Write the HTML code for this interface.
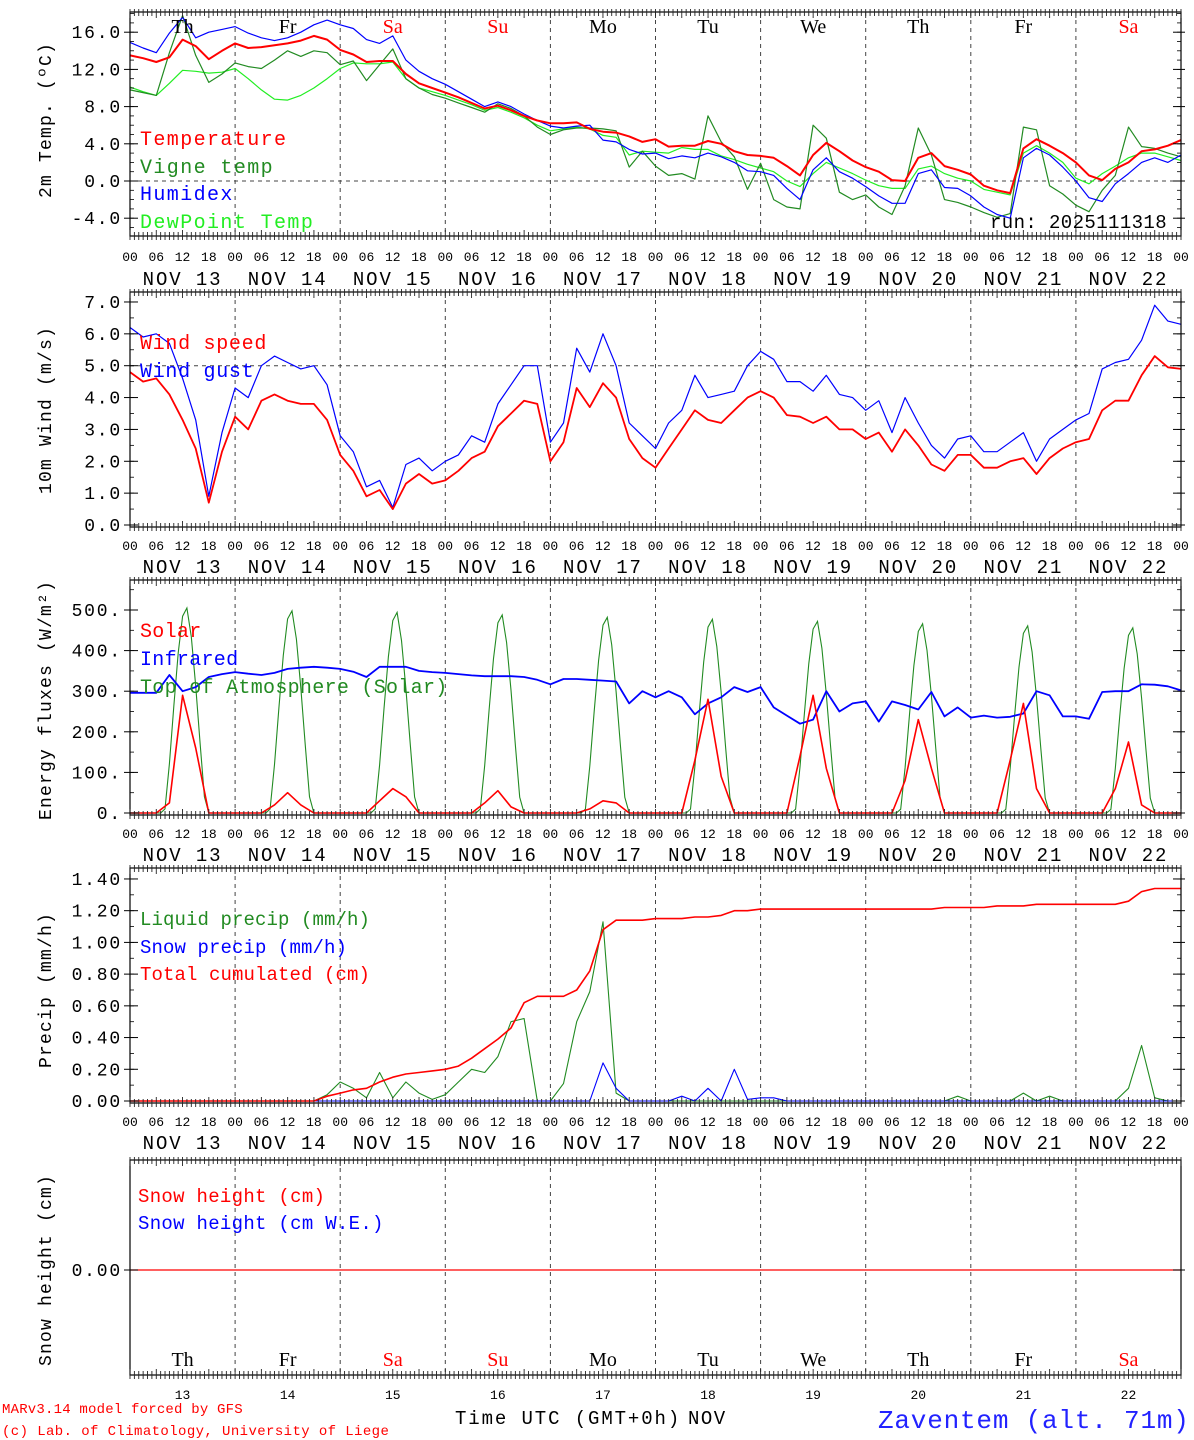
<!DOCTYPE html>
<html><head><meta charset="utf-8"><style>
html,body{margin:0;padding:0;background:#fff;}
svg{display:block;font-family:"Liberation Mono",monospace;}
.s{font-family:"Liberation Serif",serif;}
</style></head><body>
<svg id="chart" width="1194" height="1440" viewBox="0 0 1194 1440" xmlns="http://www.w3.org/2000/svg">
<g id="grid"></g>
<g id="series"></g>
<g id="axes"></g>
<g font-size="20" letter-spacing="1.4">
<text x="140" y="145" fill="#ff0000">Temperature</text>
<text x="140" y="173" fill="#228b22">Vigne temp</text>
<text x="140" y="200" fill="#0000ff">Humidex</text>
<text x="140" y="228" fill="#22ee22">DewPoint Temp</text>
</g>
<text x="990" y="228" fill="#000" font-size="19" letter-spacing="0.4">run: 2025111318</text>
<g font-size="20" letter-spacing="0.7">
<text x="140" y="349" fill="#ff0000">Wind speed</text>
<text x="140" y="377" fill="#0000ff">Wind gust</text>
</g>
<g font-size="20" letter-spacing="0.3">
<text x="140" y="637" fill="#ff0000">Solar</text>
<text x="140" y="665" fill="#0000ff">Infrared</text>
<text x="140" y="693" fill="#228b22">Top of Atmosphere (Solar)</text>
</g>
<g font-size="19" letter-spacing="0.1">
<text x="140" y="925" fill="#228b22">Liquid precip (mm/h)</text>
<text x="140" y="953" fill="#0000ff">Snow precip (mm/h)</text>
<text x="140" y="980" fill="#ff0000">Total cumulated (cm)</text>
</g>
<g font-size="19" letter-spacing="0.3">
<text x="138" y="1202" fill="#ff0000">Snow height (cm)</text>
<text x="138" y="1229" fill="#0000ff">Snow height (cm W.E.)</text>
</g>
<g font-size="18" letter-spacing="1.2" text-anchor="middle">
<text transform="translate(51,120) rotate(-90)">2m Temp. (ºC)</text>
<text transform="translate(51,410) rotate(-90)">10m Wind (m/s)</text>
<text transform="translate(51,700) rotate(-90)">Energy fluxes (W/m²)</text>
<text transform="translate(51,990) rotate(-90)">Precip (mm/h)</text>
<text transform="translate(51,1270) rotate(-90)">Snow height (cm)</text>
</g>
<text x="2" y="1413" font-size="14" fill="#ff0000" letter-spacing="0.2">MARv3.14 model forced by GFS</text>
<text x="2" y="1435" font-size="14" fill="#ff0000" letter-spacing="0.4">(c) Lab. of Climatology, University of Liege</text>
<text x="455" y="1424" font-size="19" letter-spacing="1.9">Time UTC (GMT+0h)</text>
<text x="688" y="1424" font-size="19" letter-spacing="1.5">NOV</text>
<text x="878" y="1428" font-size="26" fill="#2222ff" letter-spacing="0.8">Zaventem (alt. 71m)</text>
</svg>
<script>
const dayNames=["Th","Fr","Sa","Su","Mo","Tu","We","Th","Fr","Sa"];
const dayNums=["13","14","15","16","17","18","19","20","21","22"];
const temperature=[13.5,13.2,12.8,13.3,15.2,14.5,13.1,14.0,14.8,14.3,14.4,14.6,14.8,15.1,15.6,15.2,14.1,13.6,12.8,12.9,12.9,11.5,10.5,10.0,9.5,9.0,8.4,7.8,8.1,7.6,7.0,6.5,6.2,6.2,6.3,5.6,5.3,5.2,4.8,4.2,4.5,3.7,3.8,3.8,4.3,4.0,3.2,2.8,2.7,2.5,1.6,0.6,2.8,4.1,3.2,2.2,1.5,1.0,0.1,0.0,2.5,3.0,1.6,1.2,0.7,-0.5,-1.0,-1.3,3.5,4.5,3.8,3.0,2.0,0.6,0.1,1.3,2.0,3.2,3.4,3.8,4.4];
const vigneTemp=[9.8,9.5,9.2,13.8,17.8,13.5,10.6,11.5,12.7,12.3,12.1,13.0,14.0,13.4,14.0,13.8,12.5,12.9,10.8,12.5,14.2,11.0,10.0,9.3,8.9,8.4,7.9,7.4,8.3,7.8,7.0,5.8,5.0,5.5,5.7,5.7,5.6,5.4,1.5,3.2,1.6,0.6,0.8,0.2,7.0,4.2,2.6,-0.9,1.9,-2.0,-2.8,-3.0,6.0,4.6,-1.2,-2.0,-1.5,-2.8,-3.6,-0.5,5.7,2.8,-2.0,-2.3,-2.8,-3.4,-3.9,-3.5,5.8,5.5,-0.5,-1.4,-2.6,-3.3,-1.0,0.6,5.8,3.7,3.5,3.0,2.6];
const humidex=[14.9,14.3,13.8,15.9,17.6,15.4,16.0,16.3,16.6,15.9,15.4,15.1,15.4,16.0,16.8,17.3,16.8,16.4,15.2,14.8,15.6,13.0,11.8,11.0,10.4,9.6,8.8,8.0,8.5,8.0,7.2,6.5,5.9,5.7,5.9,6.0,4.4,4.2,3.4,2.9,3.0,2.4,2.7,2.5,3.0,2.6,2.0,1.1,1.0,0.6,-0.8,-2.0,1.2,2.5,1.0,0.3,-0.6,-1.6,-2.4,-2.4,0.8,1.2,-0.7,-0.8,-1.6,-2.8,-3.6,-4.0,2.5,3.5,2.8,1.5,0.0,-1.8,-2.2,-0.3,0.8,2.0,2.5,2.0,2.8];
const dewPoint=[10.1,9.6,9.2,10.5,11.9,11.8,11.6,11.7,12.1,11.0,9.8,8.8,8.7,9.2,10.0,11.0,12.1,12.7,12.6,12.6,12.8,11.0,10.0,9.6,9.2,8.7,8.2,7.6,7.9,7.4,6.8,6.0,5.4,5.6,5.8,5.6,4.9,4.7,2.8,3.2,3.1,3.0,3.6,3.4,3.4,2.7,2.3,1.8,1.4,1.0,0.0,-0.6,0.8,2.0,1.4,0.8,0.1,-0.5,-0.8,-0.8,1.3,1.6,0.8,0.3,0.0,-0.9,-1.2,-1.5,3.0,3.8,3.0,2.0,0.3,-0.3,0.8,1.6,2.5,3.0,3.0,2.6,2.2];
const windSpeed=[4.8,4.5,4.6,4.1,3.3,2.4,0.7,2.3,3.4,3.0,3.9,4.1,3.9,3.8,3.8,3.3,2.2,1.7,0.9,1.1,0.5,1.3,1.6,1.3,1.4,1.7,2.1,2.3,3.1,3.5,3.9,3.8,2.0,2.6,4.3,3.7,4.45,4.0,2.7,2.1,1.8,2.4,3.0,3.6,3.3,3.2,3.6,4.0,4.2,4.0,3.45,3.4,3.2,3.4,3.0,3.0,2.7,2.9,2.3,3.0,2.5,1.9,1.7,2.2,2.2,1.8,1.8,2.0,2.1,1.6,2.1,2.4,2.6,2.7,3.6,3.9,3.9,4.7,5.3,4.95,4.9];
const windGust=[6.2,5.9,6.0,5.7,4.6,3.3,0.9,2.9,4.3,4.0,5.0,5.3,5.1,4.9,5.0,4.4,2.8,2.3,1.2,1.4,0.55,1.9,2.1,1.7,2.0,2.2,2.8,2.6,3.8,4.4,5.0,5.0,2.6,3.2,5.55,4.8,6.0,5.0,3.2,2.8,2.4,3.2,3.6,4.7,4.0,4.1,4.2,5.0,5.45,5.2,4.5,4.5,4.2,4.7,4.1,4.0,3.6,3.9,2.9,4.0,3.2,2.5,2.1,2.7,2.8,2.3,2.3,2.6,2.9,2.0,2.7,3.0,3.3,3.5,4.9,5.1,5.2,5.8,6.9,6.4,6.3];
const solar=[0,0,0,25,290,160,0,0, 0,0,0,20,50,20,0,0, 0,0,0,30,60,40,0,0, 0,0,0,25,55,15,0,0, 0,0,0,10,30,25,0,0, 0,0,0,130,280,90,0,0, 0,0,0,140,290,110,0,0, 0,0,0,80,230,110,0,0, 0,0,0,130,270,60,0,0, 0,0,0,60,175,20,0,0, 0];
const infrared=[296,296,296,340,300,310,335,342,347,343,340,345,355,358,360,358,355,348,335,360,360,360,350,347,345,342,339,337,337,337,335,328,317,330,330,328,326,324,270,300,285,300,285,243,270,285,310,298,310,260,240,220,230,300,250,270,275,225,275,266,255,298,238,260,235,240,235,237,245,300,290,238,238,232,298,300,300,317,316,312,302];
const toaProfile=[0,0,0,0,0,0,0,0,10,120,260,390,480,500,430,310,170,40,0,0,0,0,0,0];
const toaPeak=[505,498,494,488,482,477,472,466,461,456];
const liquidPrecip=[0,0,0,0,0,0,0,0,0,0,0,0,0,0,0,0.04,0.12,0.08,0.02,0.18,0.02,0.12,0.05,0.01,0.04,0.12,0.20,0.18,0.28,0.50,0.52,0,0,0.11,0.50,0.69,1.13,0.05,0,0,0,0,0,0,0,0,0,0,0,0,0,0,0,0,0,0,0,0,0,0,0,0,0,0.03,0,0,0,0,0.05,0,0.03,0,0,0,0,0,0.08,0.35,0.02,0,0];
const snowPrecip=[0,0,0,0,0,0,0,0,0,0,0,0,0,0,0,0,0,0,0,0,0,0,0,0,0,0,0,0,0,0,0,0,0,0,0,0,0.24,0.08,0,0,0,0,0.03,0,0.08,0,0.20,0.01,0.02,0.02,0,0,0,0,0,0,0,0,0,0,0,0,0,0,0,0,0,0,0,0,0,0,0,0,0,0,0,0,0,0,0];
const cumulated=[0,0,0,0,0,0,0,0,0,0,0,0,0,0,0,0.03,0.05,0.07,0.08,0.12,0.15,0.17,0.18,0.19,0.20,0.22,0.27,0.33,0.39,0.46,0.62,0.66,0.66,0.66,0.70,0.82,1.08,1.14,1.14,1.14,1.15,1.15,1.15,1.16,1.16,1.17,1.20,1.20,1.21,1.21,1.21,1.21,1.21,1.21,1.21,1.21,1.21,1.21,1.21,1.21,1.21,1.21,1.22,1.22,1.22,1.22,1.23,1.23,1.23,1.24,1.24,1.24,1.24,1.24,1.24,1.24,1.26,1.32,1.34,1.34,1.34];
const snowHeight=[0,0,0,0,0,0,0,0,0,0,0,0,0,0,0,0,0,0,0,0,0,0,0,0,0,0,0,0,0,0,0,0,0,0,0,0,0,0,0,0,0,0,0,0,0,0,0,0,0,0,0,0,0,0,0,0,0,0,0,0,0,0,0,0,0,0,0,0,0,0,0,0,0,0,0,0,0,0,0,0,0];
const tempTicks=["-4.0","0.0","4.0","8.0","12.0","16.0"];
const windTicks=["0.0","1.0","2.0","3.0","4.0","5.0","6.0","7.0"];
const energyTicks=["0.","100.","200.","300.","400.","500."];
const precipTicks=["0.00","0.20","0.40","0.60","0.80","1.00","1.20","1.40"];
const hourTicks=["00","06","12","18"];

const NS="http://www.w3.org/2000/svg";
const G=document.getElementById('grid'),S=document.getElementById('series'),A=document.getElementById('axes');
function mk(tag,attrs,parent){const e=document.createElementNS(NS,tag);for(const k in attrs)e.setAttribute(k,attrs[k]);parent.appendChild(e);return e;}
const X0=130,X1=1181;
function X(h){return X0+h*(X1-X0)/240;}
const panels=[
 {top:12,bot:236,labY:261,dateY:285,Y:v=>181-v*9.3,ticks:tempTicks,minor:[-5,18,1]},
 {top:292,bot:527,labY:550,dateY:573,Y:v=>525-v*31.86,ticks:windTicks,minor:[0,7.5,0.5]},
 {top:580,bot:815,labY:838,dateY:861,Y:v=>813-v*0.406,ticks:energyTicks,minor:[0,550,50]},
 {top:868,bot:1103,labY:1126,dateY:1149,Y:v=>1101-v*158.6,ticks:precipTicks,minor:[0,1.45,0.1]},
 {top:1160,bot:1375,Y:v=>1270-v*100,ticks:["0.00"],minor:null}
];
panels.forEach((p,pi)=>{
  const fr=mk('rect',{x:X0,y:p.top,width:X1-X0,height:p.bot-p.top,fill:'none',stroke:'#000','stroke-width':1.2},A);
  
  
  for(let d=1;d<10;d++){
    const l=mk('line',{x1:X(d*24),x2:X(d*24),y1:p.top,y2:p.bot,stroke:'#444','stroke-dasharray':'4,4','stroke-width':1},G);
    
    
  }
  for(let h=0;h<=240;h++){
    const len=(h%6===0)?6:4;
    const t1=mk('line',{x1:X(h),x2:X(h),y1:p.top-3,y2:p.top+len,stroke:'#222','stroke-width':0.9},A);
    
    
    const t2=mk('line',{x1:X(h),x2:X(h),y1:p.bot-len,y2:p.bot+4,stroke:'#222','stroke-width':0.9},A);
    
    
  }
  p.ticks.forEach(lbl=>{
    const v=parseFloat(lbl);
    const y=p.Y(v);
    const t=mk('text',{x:122,y:y+6,'text-anchor':'end','font-size':18,'letter-spacing':1.8},A);
    t.textContent=lbl;
    
    
    [[X0-6,X0+8],[X1-8,X1+4]].forEach(([a,b])=>{
      const tk=mk('line',{x1:a,x2:b,y1:y,y2:y,stroke:'#000','stroke-width':1},A);
      
      
    });
  });
  if(p.minor){
    for(let v=p.minor[0];v<=p.minor[1]+1e-9;v+=p.minor[2]){
      const y=p.Y(v); if(y<p.top||y>p.bot)continue;
      [[X0,X0+4],[X1-4,X1]].forEach(([a,b])=>{
        const tk=mk('line',{x1:a,x2:b,y1:y,y2:y,stroke:'#000','stroke-width':0.8},A);
        
        
      });
    }
  }
  if(p.labY){
    for(let d=0;d<10;d++){
      hourTicks.forEach((ht,k)=>{
        const t=mk('text',{x:X(d*24+k*6),y:p.labY,'text-anchor':'middle','font-size':13},A);
        t.textContent=ht;
        
        
      });
      const dt=mk('text',{x:X(d*24+12),y:p.dateY,'text-anchor':'middle','font-size':19,'letter-spacing':1.9},A);
      dt.textContent='NOV '+dayNums[d];
      
      
    }
    const t=mk('text',{x:X(240),y:p.labY,'text-anchor':'middle','font-size':13},A);
    t.textContent='00';
    
    
  }
});
dayNames.forEach((n,d)=>{
  const red=(n==="Sa"||n==="Su");
  const a=mk('text',{x:X(d*24+12),y:33,'text-anchor':'middle','font-size':20,fill:red?'#ff0000':'#000',class:'s'},A);
  a.textContent=n;
  
  
  const b=mk('text',{x:X(d*24+12),y:1366,'text-anchor':'middle','font-size':20,fill:red?'#ff0000':'#000',class:'s'},A);
  b.textContent=n;
  
  
  const c=mk('text',{x:X(d*24+12),y:1399,'text-anchor':'middle','font-size':13},A);
  c.textContent=dayNums[d];
  
  
});
const r1=mk('line',{x1:X0,x2:X1,y1:panels[0].Y(0),y2:panels[0].Y(0),stroke:'#444','stroke-dasharray':'4,4'},G);


const r2=mk('line',{x1:X0,x2:X1,y1:panels[1].Y(5),y2:panels[1].Y(5),stroke:'#444','stroke-dasharray':'4,4'},G);



function line3(vals,p,color,w){
  const d=vals.map((v,i)=>(i?'L':'M')+X(i*3).toFixed(1)+','+p.Y(v).toFixed(1)).join('');
  return mk('path',{d:d,fill:'none',stroke:color,'stroke-width':w,'stroke-linejoin':'round'},S);
}
let e;
e=line3(dewPoint,panels[0],'#22ee22',1.2);


e=line3(vigneTemp,panels[0],'#228b22',1.2);


e=line3(humidex,panels[0],'#0000ff',1.2);


e=line3(temperature,panels[0],'#ff0000',2);


e=line3(windGust,panels[1],'#0000ff',1.2);


e=line3(windSpeed,panels[1],'#ff0000',1.8);


const toa=[];
for(let h=0;h<=240;h++){const d=Math.min(9,Math.floor(h/24));toa.push(toaProfile[h%24]*toaPeak[d]/500);}
e=mk('path',{d:toa.map((v,h)=>(h?'L':'M')+X(h).toFixed(1)+','+panels[2].Y(v).toFixed(1)).join(''),fill:'none',stroke:'#228b22','stroke-width':1.1},S);


e=line3(infrared,panels[2],'#0000ff',1.8);


e=line3(solar,panels[2],'#ff0000',1.6);


e=line3(liquidPrecip,panels[3],'#228b22',1.1);


e=line3(snowPrecip,panels[3],'#0000ff',1.1);


e=line3(cumulated,panels[3],'#ff0000',1.6);


e=line3(snowHeight,panels[4],'#ff0000',1.2);


</script>
</body></html>
